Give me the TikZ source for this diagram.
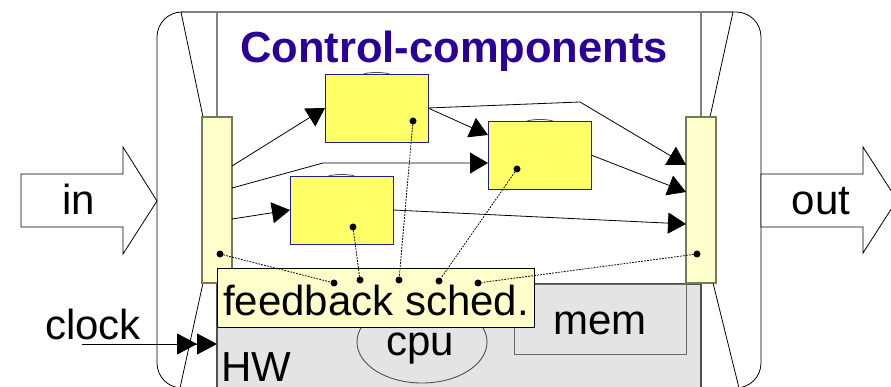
\documentclass[tikz,border=0pt]{standalone}
\usepackage{fontspec}
\setmainfont{Liberation Sans}
\usetikzlibrary{arrows.meta,calc,shapes.geometric}

\definecolor{ctrlblue}{RGB}{42,0,150}
\definecolor{compfill}{RGB}{255,255,102}
\definecolor{compedge}{RGB}{30,30,140}
\definecolor{portfill}{RGB}{255,255,204}
\definecolor{portedge}{RGB}{120,120,90}
\definecolor{hwfill}{RGB}{228,228,228}
\definecolor{hwedge}{RGB}{80,80,80}
\definecolor{framegray}{RGB}{128,128,128}

\begin{document}
\begin{tikzpicture}[x=1pt,y=-1pt,
  comp/.style={draw=compedge, fill=compfill, line width=0.9pt, inner sep=0pt,
    outer sep=0pt, minimum width=103pt, minimum height=68pt, anchor=north west},
  port/.style={draw=portedge, fill=portfill, line width=1.1pt, inner sep=0pt,
    outer sep=0pt, minimum width=30pt, minimum height=166pt, anchor=north west},
  flow/.style={line width=0.8pt, -{Triangle[length=18pt,width=21pt]}},
  dot/.style={circle, fill=black, inner sep=0pt, outer sep=0pt, minimum size=7pt},
  link/.style={line width=0.8pt, dash pattern=on 1.8pt off 1.2pt},
  lbl/.style={inner sep=0pt, anchor=base, font=\fontsize{42}{48}\selectfont},
  bump/.style={draw=black!70, line width=0.8pt},
  fatarrow/.style={draw=black, line width=0.8pt, fill=white}
]
\useasboundingbox (0,0) rectangle (891,387);
\clip (0,0) rectangle (891,387);

% outer system frame
\draw[line width=0.8pt, rounded corners=25pt] (157,12) rectangle (761,388);

% input / output arrows
\draw[fatarrow] (21,174) -- (123,174) -- (123,147) -- (157,201)
  -- (123,254) -- (123,227) -- (21,227) -- cycle;
\draw[fatarrow] (761,174) -- (863,174) -- (863,147) -- (897,200)
  -- (863,253) -- (863,227) -- (761,227) -- cycle;
\node[lbl] (inlbl) at (79,215) {in};
\node[lbl] (outlbl) at (821,215) {out};

% control area frame
\draw[framegray, line width=1.3pt] (181,12) -- (733,12);
\draw[framegray, line width=1.3pt] (217,12) -- (217,117);
\draw[framegray, line width=1.3pt] (701,12) -- (701,117);

% hardware layer
\node[draw=hwedge, fill=hwfill, line width=1.5pt, inner sep=0pt, outer sep=0pt,
  minimum width=484pt, minimum height=130pt, anchor=north west] (hw) at (217,284) {};
\node[draw=hwedge!85, fill=hwfill, line width=1pt, inner sep=0pt, outer sep=0pt,
  minimum width=172pt, minimum height=70pt, anchor=north west] (mem) at (514,284) {};
\node[ellipse, draw=hwedge, fill=hwfill, line width=0.9pt, inner sep=0pt,
  minimum width=130pt, minimum height=82pt] (cpu) at (422,342) {};
\node[lbl] (memlbl) at (600,334) {mem};
\node[lbl] (cpulbl) at (420,355) {cpu};
\node[lbl, anchor=base west] (hwlbl) at (221,381) {HW};

% perspective edges
\draw[line width=0.8pt] (181,12) -- (203,117);
\draw[line width=0.8pt] (203,283) -- (180,388);
\draw[line width=0.8pt] (733,12) -- (710,117);
\draw[line width=0.8pt] (713,283) -- (739,388);

% interface bars
\node[port] (L) at (202,117) {};
\node[port] (R) at (686,117) {};

% title
\node[inner sep=0pt, anchor=base, text=ctrlblue,
  font=\bfseries\fontsize{43.5}{50}\selectfont] (title) at (454,63) {Control-components};

% control components, each with a shallow lid peeking over its top edge
\draw[bump] (376.5,75) ellipse [x radius=14, y radius=2.5];
\draw[bump] (540,122) ellipse [x radius=14, y radius=2.5];
\draw[bump] (341.5,177) ellipse [x radius=14, y radius=2.5];
\node[comp] (A) at (325,74) {};
\node[comp] (B) at (488,121) {};
\node[comp] (C) at (290,176) {};

% data flow
\coordinate (bendB) at (323,163);
\coordinate (bendR) at (580,102);
\draw[flow] ([yshift=34pt]L.east) -- (A.west);
\draw[flow] ([yshift=12pt]L.east) -- (bendB) -- ([yshift=-8pt]B.west);
\draw[flow] ([yshift=-19pt]L.east) -- (C.west);
\draw[flow] (A.east) -- ([yshift=20pt]B.west);
\draw[flow] (A.east) -- (bendR) -- ([yshift=35pt]R.west);
\draw[flow] (B.east) -- ([yshift=8pt]R.west);
\draw[flow] (C.east) -- ([yshift=-24pt]R.west);

% feedback scheduler
\node[draw=black, fill=portfill, line width=1pt, inner sep=0pt, outer sep=0pt,
  minimum width=317pt, minimum height=58pt, anchor=north west] (fb) at (217,269) {};
\node[lbl] (fblbl) at (376,315) {feedback sched.};

% clock input
\coordinate (clk) at (82,344);
\node[inner sep=0pt, anchor=base west, font=\fontsize{42}{48}\selectfont] (clklbl) at (45,339) {clock};
\draw[line width=0.8pt, -{Triangle[length=20pt,width=21pt]Triangle[length=20pt,width=21pt]}]
  (clk) -- (clk -| hw.west);

% monitoring links
\node[dot] (dL) at (220,254) {};
\node[dot] (dC) at (353,227) {};
\node[dot] (dA) at (413,121) {};
\node[dot] (dB) at (517,169) {};
\node[dot] (dR) at (697,254) {};
\node[dot] (fL) at (334,283) {};
\node[dot] (fC) at (360,280) {};
\node[dot] (fA) at (399,280) {};
\node[dot] (fB) at (439,281) {};
\node[dot] (fR) at (478,283) {};
\draw[link] (dL) -- (fL);
\draw[link] (dC) -- (fC);
\draw[link] (dA) -- (fA);
\draw[link] (dB) -- (fB);
\draw[link] (dR) -- (fR);
\end{tikzpicture}
\end{document}
